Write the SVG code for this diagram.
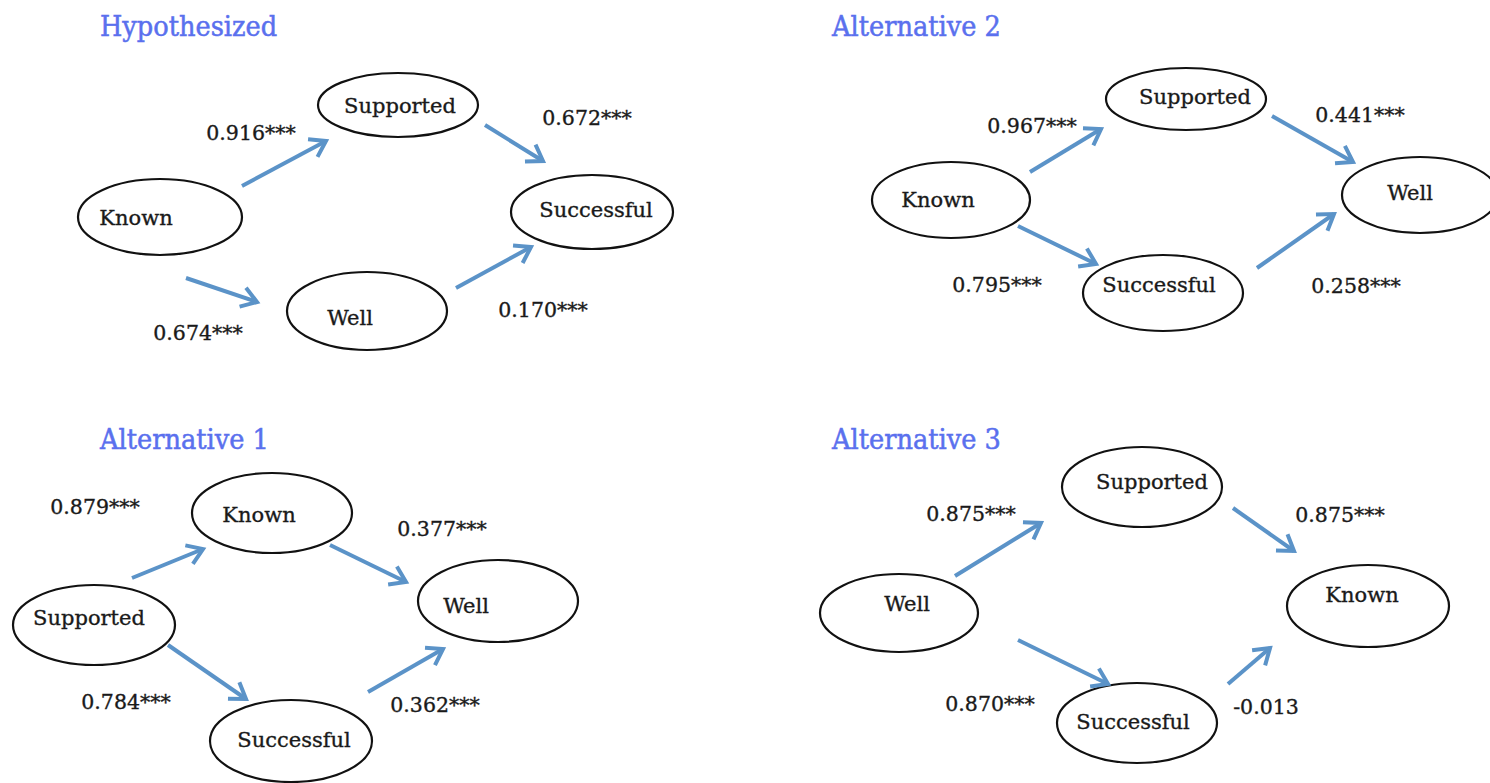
<svg xmlns="http://www.w3.org/2000/svg" width="1490" height="783" viewBox="0 0 1490 783">
  <style>
    .title { font-family: "DejaVu Serif Condensed", "DejaVu Serif", serif; font-size: 28.5px; fill: #5a70ee; stroke: #5a70ee; stroke-width: 0.5; }
    .node ellipse { fill: #ffffff; stroke: #111111; stroke-width: 2.2; }
    .node text { font-family: "DejaVu Serif", serif; font-size: 21px; fill: #1a1a1a; stroke: #1a1a1a; stroke-width: 0.35; text-anchor: middle; }
    .coef { font-family: "DejaVu Serif", serif; font-size: 20.5px; fill: #1a1a1a; stroke: #1a1a1a; stroke-width: 0.35; text-anchor: middle; }
    .edges line { stroke: #5b93c8; stroke-width: 4; marker-end: url(#chev); }
  </style>
  <defs>
    <marker id="chev" markerUnits="userSpaceOnUse" viewBox="-20 -13 24 26" markerWidth="24" markerHeight="26" refX="0" refY="0" orient="auto">
      <path d="M-15,-10 L0,0 L-15,10" fill="none" stroke="#5b93c8" stroke-width="4" stroke-linejoin="miter"/>
    </marker>
  </defs>
  <rect width="1490" height="783" fill="#ffffff"/>

  <!-- Panel: Hypothesized -->
  <text class="title" x="100" y="36">Hypothesized</text>
  <g id="h-supported" class="node"><ellipse cx="398" cy="105" rx="80" ry="32"/><text x="400" y="113">Supported</text></g>
  <g id="h-known" class="node"><ellipse cx="160" cy="217" rx="82" ry="38"/><text x="136" y="225">Known</text></g>
  <g id="h-successful" class="node"><ellipse cx="592" cy="212" rx="81" ry="37"/><text x="596" y="217">Successful</text></g>
  <g id="h-well" class="node"><ellipse cx="367" cy="311" rx="80" ry="39"/><text x="350" y="325">Well</text></g>
  <g id="h-edges" class="edges">
    <line x1="242" y1="186" x2="326" y2="141"/>
    <line x1="485" y1="125" x2="543" y2="161"/>
    <line x1="186" y1="278" x2="257" y2="302"/>
    <line x1="456" y1="288" x2="531" y2="247"/>
  </g>
  <text class="coef" x="251" y="140">0.916***</text>
  <text class="coef" x="587" y="125">0.672***</text>
  <text class="coef" x="198" y="340">0.674***</text>
  <text class="coef" x="543" y="317">0.170***</text>

  <!-- Panel: Alternative 2 -->
  <text class="title" x="832" y="36">Alternative 2</text>
  <g id="a2-supported" class="node"><ellipse cx="1186" cy="99" rx="80" ry="31"/><text x="1195" y="104">Supported</text></g>
  <g id="a2-known" class="node"><ellipse cx="951" cy="200" rx="79" ry="38"/><text x="938" y="207">Known</text></g>
  <g id="a2-well" class="node"><ellipse cx="1420" cy="195" rx="78" ry="38"/><text x="1410" y="200">Well</text></g>
  <g id="a2-successful" class="node"><ellipse cx="1163" cy="293" rx="80" ry="38"/><text x="1159" y="292">Successful</text></g>
  <g id="a2-edges" class="edges">
    <line x1="1030" y1="172" x2="1101" y2="129"/>
    <line x1="1272" y1="116" x2="1353" y2="162"/>
    <line x1="1018" y1="226" x2="1096" y2="264"/>
    <line x1="1257" y1="268" x2="1334" y2="214"/>
  </g>
  <text class="coef" x="1032" y="133">0.967***</text>
  <text class="coef" x="1360" y="122">0.441***</text>
  <text class="coef" x="997" y="292">0.795***</text>
  <text class="coef" x="1356" y="293">0.258***</text>

  <!-- Panel: Alternative 1 -->
  <text class="title" x="100" y="449">Alternative 1</text>
  <g id="a1-known" class="node"><ellipse cx="272" cy="513" rx="80" ry="40"/><text x="259" y="522">Known</text></g>
  <g id="a1-supported" class="node"><ellipse cx="94" cy="625" rx="81" ry="40"/><text x="89" y="625">Supported</text></g>
  <g id="a1-well" class="node"><ellipse cx="498" cy="601" rx="80" ry="41"/><text x="466" y="613">Well</text></g>
  <g id="a1-successful" class="node"><ellipse cx="291" cy="741" rx="81" ry="41"/><text x="294" y="747">Successful</text></g>
  <g id="a1-edges" class="edges">
    <line x1="132" y1="578" x2="203" y2="549"/>
    <line x1="330" y1="545" x2="406" y2="582"/>
    <line x1="168" y1="645" x2="246" y2="699"/>
    <line x1="368" y1="692" x2="443" y2="649"/>
  </g>
  <text class="coef" x="95" y="514">0.879***</text>
  <text class="coef" x="442" y="536">0.377***</text>
  <text class="coef" x="126" y="709">0.784***</text>
  <text class="coef" x="435" y="712">0.362***</text>

  <!-- Panel: Alternative 3 -->
  <text class="title" x="832" y="449">Alternative 3</text>
  <g id="a3-supported" class="node"><ellipse cx="1142" cy="487" rx="80" ry="40"/><text x="1152" y="489">Supported</text></g>
  <g id="a3-well" class="node"><ellipse cx="899" cy="613" rx="79" ry="39"/><text x="907" y="611">Well</text></g>
  <g id="a3-known" class="node"><ellipse cx="1368" cy="606" rx="81" ry="41"/><text x="1362" y="602">Known</text></g>
  <g id="a3-successful" class="node"><ellipse cx="1137" cy="723" rx="80" ry="40"/><text x="1133" y="729">Successful</text></g>
  <g id="a3-edges" class="edges">
    <line x1="955" y1="576" x2="1041" y2="523"/>
    <line x1="1233" y1="508" x2="1294" y2="551"/>
    <line x1="1018" y1="640" x2="1108" y2="684"/>
    <line x1="1228" y1="684" x2="1270" y2="648"/>
  </g>
  <text class="coef" x="971" y="521">0.875***</text>
  <text class="coef" x="1340" y="522">0.875***</text>
  <text class="coef" x="990" y="711">0.870***</text>
  <text class="coef" x="1266" y="714">-0.013</text>
</svg>
